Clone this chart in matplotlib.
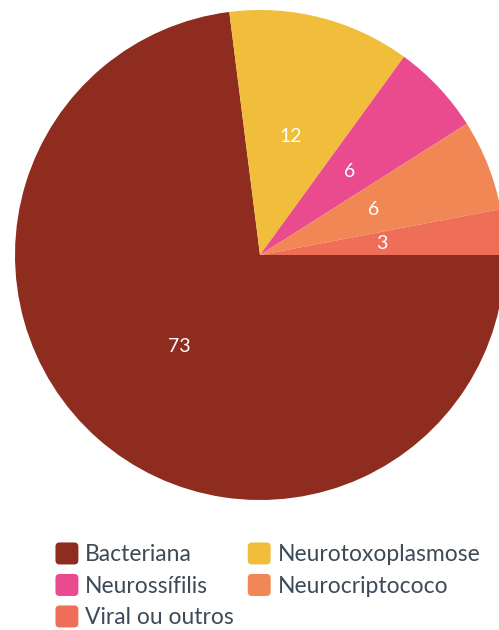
import matplotlib.pyplot as plt
from matplotlib.patches import FancyBboxPatch
from matplotlib.legend_handler import HandlerPatch

categories = ['Bacteriana', 'Neurotoxoplasmose', 'Neurossífilis', 'Neurocriptococo', 'Viral ou outros']
values = [73, 12, 6, 6, 3]
colors = ['#8E2C1F', '#F0BE3A', '#EA4A8E', '#F08754', '#EF6E57']


def rounded_box(legend, orig_handle, xdescent, ydescent, width, height, fontsize):
	return FancyBboxPatch((-xdescent, -ydescent), width, height,
		boxstyle='round,pad=0,rounding_size=3', linewidth=0)


def main():
	plt.rcParams['font.family'] = ['Lato', 'DejaVu Sans']
	fig = plt.figure(figsize=(4.99, 6.3), dpi=100)
	ax = fig.add_axes([0, 0, 1, 1])

	r = 245.0
	wedges, texts = ax.pie(values, colors=colors, startangle=0, counterclock=False,
		labels=[str(v) for v in values], labeldistance=0.5,
		textprops=dict(color='white', fontsize=14),
		wedgeprops=dict(linewidth=0))
	for t in texts:
		t.set_horizontalalignment('center')
		t.set_verticalalignment('center')

	# crop so the pie sits like in the original (right side cut off)
	ax.set_aspect('auto')
	ax.set_xlim(-260 / r, 239 / r)
	ax.set_ylim(-375 / r, 255 / r)
	ax.axis('off')

	# row-major order like the original legend
	order = [0, 2, 4, 1, 3]
	fig.legend([wedges[i] for i in order], [categories[i] for i in order],
		ncol=2, loc='upper left',
		bbox_to_anchor=(44 / 499, 1 - 531 / 630), frameon=False,
		fontsize=16.5, labelcolor='#3D4A57', handlelength=1.0, handleheight=1.1,
		handletextpad=0.3, columnspacing=0.6, labelspacing=0.38, borderpad=0,
		handler_map={w: HandlerPatch(patch_func=rounded_box) for w in wedges})

	fig.savefig('out.png', dpi=100)


if __name__ == '__main__':
	main()
